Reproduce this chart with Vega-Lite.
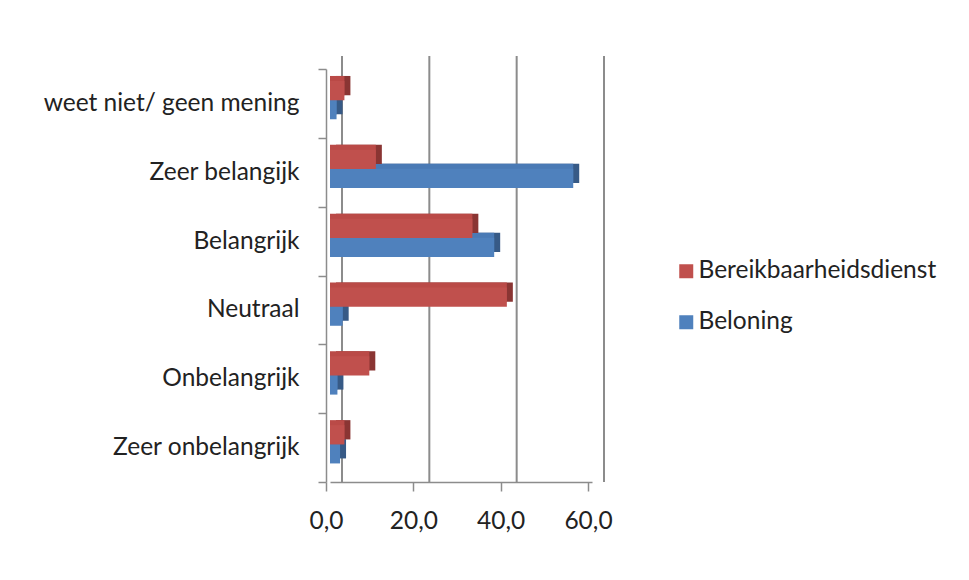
{
  "$schema": "https://vega.github.io/schema/vega-lite/v6.json",
  "autosize": {"type": "none"},
  "padding": {"left": 330, "top": 69, "right": 377, "bottom": 98},
  "width": 262,
  "height": 413,
  "background": "white",
  "config": {"view": {"stroke": null}, "font": "Lato"},
  "datasets": {
    "bars": [
      {"cat": "weet niet/ geen mening", "series": "Bereikbaarheidsdienst", "value": 3.3},
      {"cat": "weet niet/ geen mening", "series": "Beloning", "value": 1.5},
      {"cat": "Zeer belangijk", "series": "Bereikbaarheidsdienst", "value": 10.5},
      {"cat": "Zeer belangijk", "series": "Beloning", "value": 55.7},
      {"cat": "Belangrijk", "series": "Bereikbaarheidsdienst", "value": 32.6},
      {"cat": "Belangrijk", "series": "Beloning", "value": 37.6},
      {"cat": "Neutraal", "series": "Bereikbaarheidsdienst", "value": 40.5},
      {"cat": "Neutraal", "series": "Beloning", "value": 2.9},
      {"cat": "Onbelangrijk", "series": "Bereikbaarheidsdienst", "value": 9.0},
      {"cat": "Onbelangrijk", "series": "Beloning", "value": 1.7},
      {"cat": "Zeer onbelangrijk", "series": "Bereikbaarheidsdienst", "value": 3.3},
      {"cat": "Zeer onbelangrijk", "series": "Beloning", "value": 2.3}
    ],
    "grid": [{"v": 0}, {"v": 20}, {"v": 40}, {"v": 60}]
  },
  "encoding": {
    "x": {
      "field": "value", "type": "quantitative", "scale": {"domain": [0, 60], "nice": false},
      "axis": {"title": null, "values": [0, 20, 40, 60], "labelExpr": "replace(format(datum.value, '.1f'), '.', ',')", "labelFont": "Lato", "labelFontSize": 24.5, "labelColor": "#222222", "labelPadding": 18, "labelFlush": false, "tickSize": 9, "tickOffset": -4, "tickColor": "#8c8c8c", "tickWidth": 1.5, "domainColor": "#8c8c8c", "domainWidth": 1.5, "grid": false}
    },
    "y": {
      "field": "cat", "type": "nominal", "sort": ["weet niet/ geen mening", "Zeer belangijk", "Belangrijk", "Neutraal", "Onbelangrijk", "Zeer onbelangrijk"],
      "scale": {"paddingInner": 0, "paddingOuter": 0},
      "axis": {"title": null, "offset": 4, "labelFont": "Lato", "labelFontSize": 24.5, "labelColor": "#222222", "labelPadding": 19, "labelLimit": 400, "tickSize": 8, "tickBand": "extent", "tickColor": "#8c8c8c", "tickWidth": 1.5, "domainColor": "#8c8c8c", "domainWidth": 1.5, "grid": false}
    }
  },
  "layer": [
    {
      "data": {"name": "grid"},
      "mark": {"type": "rule", "color": "#8c8c8c", "strokeWidth": 2, "xOffset": 12, "yOffset": -13, "y2Offset": -13},
      "encoding": {
        "x": {"field": "v", "type": "quantitative"},
        "y": null
      }
    },
    {
      "data": {"name": "bars"},
      "transform": [{"filter": "datum.series == 'Beloning'"}],
      "mark": {"type": "bar", "height": 19.3, "color": "#375a86", "xOffset": 6, "x2Offset": 6, "yOffset": 1.2}
    },
    {
      "data": {"name": "bars"},
      "transform": [{"filter": "datum.series == 'Beloning'"}],
      "mark": {"type": "bar", "height": 19.3, "color": "#4a7ab5", "yOffset": 1.2}
    },
    {
      "data": {"name": "bars"},
      "transform": [{"filter": "datum.series == 'Bereikbaarheidsdienst'"}],
      "mark": {"type": "bar", "height": 19.3, "color": "#8a3533", "xOffset": 6, "x2Offset": 6, "yOffset": -17.8}
    },
    {
      "data": {"name": "bars"},
      "transform": [{"filter": "datum.series == 'Bereikbaarheidsdienst'"}],
      "mark": {"type": "bar", "height": 19.3, "color": "#ba4a47", "yOffset": -17.8}
    },
    {
      "data": {"name": "bars"},
      "mark": {"type": "bar", "height": 19.3, "yOffset": 6.2},
      "transform": [{"filter": "datum.series == 'Beloning'"}],
      "encoding": {
        "color": {
          "field": "series", "type": "nominal",
          "scale": {"domain": ["Bereikbaarheidsdienst", "Beloning"], "range": ["#c0504d", "#4f81bd"]},
          "legend": {"title": null, "orient": "none", "legendX": 344, "legendY": 190, "padding": 0, "symbolType": "square", "symbolSize": 196, "symbolStrokeWidth": 0, "labelFont": "Lato", "labelFontSize": 24.5, "labelColor": "#222222", "labelOffset": 0, "rowPadding": 26, "labelLimit": 400}
        }
      }
    },
    {
      "data": {"name": "bars"},
      "mark": {"type": "bar", "height": 19.3, "yOffset": -12.8},
      "transform": [{"filter": "datum.series == 'Bereikbaarheidsdienst'"}],
      "encoding": {
        "color": {"field": "series", "type": "nominal"}
      }
    }
  ]
}
